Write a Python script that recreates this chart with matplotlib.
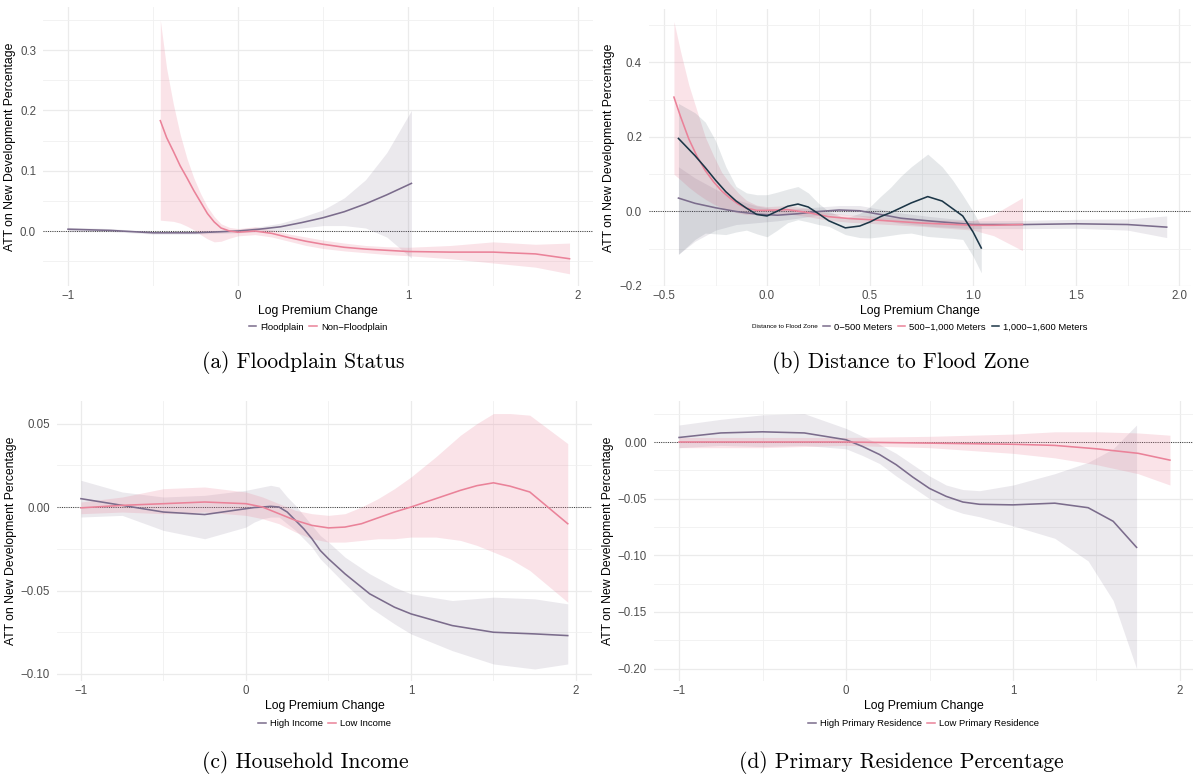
import matplotlib
matplotlib.use("Agg")
import matplotlib.pyplot as plt
from matplotlib.lines import Line2D

plt.rcParams['font.family'] = ['Liberation Sans', 'DejaVu Sans']

# ---------------- data ----------------
# (a) Floodplain status
a_fp_x = [-1.0, -0.75, -0.5, -0.25, 0.0, 0.125, 0.25, 0.375, 0.5, 0.625, 0.75, 0.875, 1.02]
a_fp_y = [0.003, 0.001, -0.003, -0.003, 0.0, 0.003, 0.007, 0.014, 0.022, 0.032, 0.045, 0.060, 0.079]
a_fp_lo = [-0.001, -0.001, -0.005, -0.005, -0.003, -0.001, 0.001, 0.005, 0.009, 0.009, 0.005, -0.010, -0.045]
a_fp_hi = [0.006, 0.004, -0.001, -0.001, 0.003, 0.007, 0.013, 0.023, 0.035, 0.055, 0.085, 0.130, 0.200]

a_nf_x = [-0.457, -0.42, -0.38, -0.34, -0.30, -0.26, -0.22, -0.18, -0.14, -0.10, -0.05, 0.0,
          0.1, 0.2, 0.3, 0.4, 0.5, 0.625, 0.75, 0.875, 1.0, 1.25, 1.5, 1.75, 1.95]
a_nf_y = [0.183, 0.155, 0.132, 0.108, 0.088, 0.067, 0.048, 0.029, 0.015, 0.005, 0.0, -0.002,
          0.0, -0.004, -0.011, -0.017, -0.022, -0.027, -0.030, -0.032, -0.034, -0.035, -0.035,
          -0.038, -0.046]
a_nf_lo = [0.018, 0.017, 0.016, 0.013, 0.008, 0.002, -0.006, -0.013, -0.018, -0.017, -0.012, -0.008,
           -0.006, -0.010, -0.017, -0.024, -0.029, -0.033, -0.036, -0.039, -0.041, -0.046, -0.053,
           -0.060, -0.071]
a_nf_hi = [0.350, 0.270, 0.210, 0.160, 0.120, 0.088, 0.062, 0.040, 0.024, 0.012, 0.006, 0.004,
           0.007, 0.002, -0.005, -0.010, -0.015, -0.020, -0.024, -0.026, -0.027, -0.024, -0.018,
           -0.022, -0.020]

# (b) Distance to flood zone
b_p_x = [-0.43, -0.35, -0.25, -0.15, -0.05, 0.05, 0.15, 0.25, 0.35, 0.45, 0.55, 0.65, 0.8, 1.0,
         1.25, 1.5, 1.75, 1.94]
b_p_y = [0.036, 0.022, 0.010, 0.0, -0.007, -0.010, -0.006, 0.0, 0.004, 0.002, -0.008, -0.018,
         -0.026, -0.035, -0.035, -0.033, -0.035, -0.042]
b_p_lo = [-0.115, -0.08, -0.05, -0.035, -0.030, -0.025, -0.018, -0.010, -0.008, -0.012, -0.022,
          -0.032, -0.040, -0.046, -0.046, -0.045, -0.050, -0.070]
b_p_hi = [0.120, 0.090, 0.060, 0.032, 0.015, 0.005, 0.008, 0.012, 0.016, 0.016, 0.006, -0.004,
          -0.014, -0.025, -0.024, -0.021, -0.020, -0.012]

b_k_x = [-0.452, -0.42, -0.38, -0.34, -0.30, -0.26, -0.22, -0.18, -0.14, -0.10, -0.05, 0.0, 0.1,
         0.2, 0.3, 0.4, 0.5, 0.75, 1.0, 1.1, 1.24]
b_k_y = [0.307, 0.255, 0.195, 0.148, 0.110, 0.080, 0.055, 0.036, 0.020, 0.009, 0.003, 0.003, 0.005,
         -0.003, -0.014, -0.019, -0.022, -0.031, -0.037, -0.037, -0.035]
b_k_lo = [0.100, 0.085, 0.065, 0.048, 0.033, 0.020, 0.010, 0.002, -0.004, -0.008, -0.008, -0.006,
          -0.006, -0.014, -0.024, -0.029, -0.032, -0.040, -0.050, -0.065, -0.105]
b_k_hi = [0.510, 0.430, 0.340, 0.270, 0.200, 0.150, 0.105, 0.075, 0.050, 0.030, 0.017, 0.013,
          0.016, 0.008, -0.004, -0.009, -0.012, -0.022, -0.024, -0.008, 0.037]

b_d_x = [-0.43, -0.35, -0.30, -0.25, -0.20, -0.15, -0.10, -0.05, 0.0, 0.05, 0.10, 0.15, 0.20,
         0.25, 0.30, 0.38, 0.45, 0.50, 0.55, 0.60, 0.65, 0.70, 0.78, 0.85, 0.90, 0.95, 1.0, 1.04]
b_d_y = [0.196, 0.150, 0.118, 0.084, 0.053, 0.028, 0.009, -0.008, -0.012, 0.001, 0.014, 0.020,
         0.012, -0.006, -0.025, -0.044, -0.039, -0.028, -0.014, -0.003, 0.010, 0.023, 0.040, 0.028,
         0.008, -0.012, -0.055, -0.098]
b_d_lo = [-0.115, -0.075, -0.058, -0.060, -0.062, -0.055, -0.050, -0.060, -0.068, -0.050, -0.030,
          -0.022, -0.028, -0.035, -0.040, -0.062, -0.070, -0.071, -0.068, -0.064, -0.060, -0.058,
          -0.067, -0.070, -0.072, -0.075, -0.120, -0.165]
b_d_hi = [0.290, 0.265, 0.240, 0.190, 0.120, 0.067, 0.050, 0.045, 0.045, 0.052, 0.060, 0.067,
          0.050, 0.022, 0.000, -0.018, -0.005, 0.013, 0.040, 0.065, 0.095, 0.120, 0.154, 0.120,
          0.085, 0.044, 0.000, -0.040]

# (c) Household income
c_h_x = [-1.0, -0.75, -0.5, -0.25, 0.0, 0.05, 0.1, 0.15, 0.2, 0.25, 0.3, 0.35, 0.4, 0.45, 0.5,
         0.6, 0.75, 0.9, 1.0, 1.25, 1.5, 1.75, 1.95]
c_h_y = [0.005, 0.001, -0.003, -0.0045, -0.001, -0.0003, 0.0, 0.0004, 0.0, -0.003, -0.008, -0.013,
         -0.019, -0.026, -0.031, -0.040, -0.052, -0.060, -0.064, -0.071, -0.075, -0.076, -0.077]
c_h_lo = [-0.006, -0.005, -0.014, -0.019, -0.012, -0.009, -0.007, -0.006, -0.006, -0.010, -0.014,
          -0.019, -0.024, -0.031, -0.036, -0.046, -0.060, -0.070, -0.076, -0.086, -0.094, -0.097,
          -0.094]
c_h_hi = [0.016, 0.009, 0.006, 0.007, 0.010, 0.011, 0.012, 0.013, 0.012, 0.006, 0.001, -0.005,
          -0.011, -0.017, -0.021, -0.030, -0.040, -0.048, -0.052, -0.056, -0.054, -0.055, -0.058]

c_l_x = [-1.0, -0.75, -0.5, -0.25, 0.0, 0.1, 0.2, 0.3, 0.4, 0.5, 0.6, 0.7, 0.8, 0.9, 1.0, 1.15,
         1.3, 1.4, 1.5, 1.6, 1.72, 1.95]
c_l_y = [-0.0005, 0.001, 0.002, 0.003, 0.002, 0.0, -0.004, -0.008, -0.011, -0.0125, -0.012,
         -0.010, -0.0065, -0.003, 0.0, 0.005, 0.010, 0.0128, 0.0145, 0.0125, 0.009, -0.010]
c_l_lo = [-0.004, -0.003, -0.004, -0.003, -0.005, -0.007, -0.010, -0.015, -0.019, -0.021, -0.021,
          -0.020, -0.019, -0.019, -0.018, -0.018, -0.020, -0.023, -0.027, -0.031, -0.038, -0.057]
c_l_hi = [0.003, 0.006, 0.011, 0.012, 0.009, 0.006, 0.002, -0.002, -0.004, -0.005, -0.004, 0.000,
          0.005, 0.011, 0.018, 0.030, 0.043, 0.050, 0.056, 0.056, 0.055, 0.038]

# (d) Primary residence percentage
d_h_x = [-1.0, -0.75, -0.5, -0.25, 0.0, 0.1, 0.2, 0.3, 0.4, 0.5, 0.6, 0.7, 0.8, 1.0, 1.25, 1.45,
         1.6, 1.74]
d_h_y = [0.004, 0.008, 0.009, 0.008, 0.002, -0.004, -0.011, -0.020, -0.031, -0.041, -0.048, -0.053,
         -0.055, -0.0555, -0.054, -0.058, -0.070, -0.093]
d_h_lo = [-0.005, -0.003, -0.004, -0.003, -0.006, -0.012, -0.019, -0.030, -0.040, -0.050, -0.058,
          -0.063, -0.066, -0.074, -0.085, -0.105, -0.140, -0.200]
d_h_hi = [0.015, 0.020, 0.024, 0.025, 0.012, 0.005, -0.002, -0.010, -0.020, -0.030, -0.038, -0.042,
          -0.043, -0.038, -0.028, -0.018, -0.006, 0.015]

d_l_x = [-1.0, -0.5, 0.0, 0.5, 1.0, 1.25, 1.5, 1.75, 1.94]
d_l_y = [0.0, 0.0, 0.0, -0.001, -0.002, -0.003, -0.006, -0.010, -0.016]
d_l_lo = [-0.005, -0.005, -0.003, -0.005, -0.010, -0.014, -0.020, -0.028, -0.038]
d_l_hi = [0.004, 0.004, 0.004, 0.005, 0.007, 0.009, 0.009, 0.008, 0.006]

captions = ["(a) Floodplain Status", "(b) Distance to Flood Zone",
            "(c) Household Income", "(d) Primary Residence Percentage"]

# ---------------- style ----------------
PURPLE = "#7B6C8C"
PINK = "#EA8299"
DARK = "#1C3647"
W, H = 1196, 778
fig = plt.figure(figsize=(W / 100, H / 100), dpi=100)


def px_axes(l, r, t, b):
    return fig.add_axes([l / W, 1 - b / H, (r - l) / W, (b - t) / H])


def style(ax, xlim, ylim, xmaj, xmin, ymaj, ymin, xfmt, yfmt):
    ax.set_xlim(*xlim)
    ax.set_ylim(*ylim)
    for s in ax.spines.values():
        s.set_visible(False)
    ax.set_xticks(xmaj)
    ax.set_xticks(xmin, minor=True)
    ax.set_yticks(ymaj)
    ax.set_yticks(ymin, minor=True)
    ax.set_xticklabels([xfmt(v).replace('-', '\u2212') for v in xmaj])
    ax.set_yticklabels([yfmt(v).replace('-', '\u2212') for v in ymaj])
    ax.grid(True, which='major', color='#EBEBEB', lw=0.9)
    ax.grid(True, which='minor', color='#F0F0F0', lw=0.6)
    ax.set_axisbelow(True)
    ax.tick_params(which='both', length=0, labelsize=8.3, labelcolor='#4D4D4D')
    ax.tick_params(axis='x', pad=3)
    ax.tick_params(axis='y', pad=5)
    ax.axhline(0, color='#333333', lw=0.7, ls=(0, (1, 1.3)), zorder=1)
    ax.set_xlabel("Log Premium Change", fontsize=8.8, labelpad=2)
    ax.set_ylabel("ATT on New Development Percentage", fontsize=8.8, labelpad=3)


def series(ax, x, y, lo, hi, color, alpha):
    ax.fill_between(x, lo, hi, color=color, alpha=alpha, lw=0, zorder=2)
    ax.plot(x, y, color=color, lw=1.15, zorder=3, solid_joinstyle='round')


def legend(ax, labels, colors, ypix, shift=0):
    bb = ax.get_position()
    cx = (bb.x0 + bb.x1) / 2 + shift / W
    handles = [Line2D([], [], color=c, lw=1.1) for c in colors]
    leg = fig.legend(handles, labels, loc='center', bbox_to_anchor=(cx, 1 - ypix / H),
                     ncol=len(labels), frameon=False, fontsize=6.8, handlelength=0.8,
                     handletextpad=0.4, columnspacing=0.6, borderpad=0, borderaxespad=0)
    return leg


fmt1 = lambda v: f"{v:.1f}"
fmt2 = lambda v: f"{v:.2f}"
fmti = lambda v: f"{v:.0f}"

# (a)
axa = px_axes(43, 593, 7, 286)
series(axa, a_fp_x, a_fp_y, a_fp_lo, a_fp_hi, PURPLE, 0.15)
series(axa, a_nf_x, a_nf_y, a_nf_lo, a_nf_hi, PINK, 0.22)
style(axa, (-1.147, 2.088), (-0.0912, 0.3715), [-1, 0, 1, 2], [-0.5, 0.5, 1.5],
      [0.0, 0.1, 0.2, 0.3], [-0.05, 0.05, 0.15, 0.25, 0.35], fmti, fmt1)
legend(axa, ["Floodplain", "Non\u2212Floodplain"], [PURPLE, PINK], 327)

# (b)
axb = px_axes(649, 1191, 9, 286)
series(axb, b_p_x, b_p_y, b_p_lo, b_p_hi, PURPLE, 0.15)
series(axb, b_k_x, b_k_y, b_k_lo, b_k_hi, PINK, 0.22)
series(axb, b_d_x, b_d_y, b_d_lo, b_d_hi, DARK, 0.11)
style(axb, (-0.573, 2.058), (-0.198, 0.5435), [-0.5, 0.0, 0.5, 1.0, 1.5, 2.0],
      [-0.25, 0.25, 0.75, 1.25, 1.75], [-0.2, 0.0, 0.2, 0.4], [-0.1, 0.1, 0.3, 0.5], fmt1, fmt1)
legb = legend(axb, ["0\u2212500 Meters", "500\u22121,000 Meters", "1,000\u22121,600 Meters"],
              [PURPLE, PINK, DARK], 327, shift=35)
fig.canvas.draw()
ext = legb.get_window_extent()
fig.text((ext.x0 - 5) / W, 1 - 327 / H, "Distance to Flood Zone", fontsize=4.6,
         ha='right', va='center')

# (c)
axc = px_axes(57, 592, 401, 681)
series(axc, c_h_x, c_h_y, c_h_lo, c_h_hi, PURPLE, 0.15)
series(axc, c_l_x, c_l_y, c_l_lo, c_l_hi, PINK, 0.22)
style(axc, (-1.145, 2.097), (-0.1042, 0.0635), [-1, 0, 1, 2], [-0.5, 0.5, 1.5],
      [-0.10, -0.05, 0.0, 0.05], [-0.075, -0.025, 0.025], fmti, fmt2)
legend(axc, ["High Income", "Low Income"], [PURPLE, PINK], 724)

# (d)
axd = px_axes(654, 1193, 401, 681)
series(axd, d_h_x, d_h_y, d_h_lo, d_h_hi, PURPLE, 0.15)
series(axd, d_l_x, d_l_y, d_l_lo, d_l_hi, PINK, 0.22)
style(axd, (-1.15, 2.078), (-0.211, 0.0362), [-1, 0, 1, 2], [-0.5, 0.5, 1.5],
      [-0.20, -0.15, -0.10, -0.05, 0.0], [-0.175, -0.125, -0.075, -0.025, 0.025], fmti, fmt2)
legend(axd, ["High Primary Residence", "Low Primary Residence"], [PURPLE, PINK], 724)

# captions
for (cx, cy), txt in zip([(303, 363), (901, 363), (305, 763), (901, 763)], captions):
    fig.text(cx / W, 1 - cy / H, txt, family='cmr10', fontsize=15.5, ha='center', va='center')

fig.savefig("out.png", dpi=100)
